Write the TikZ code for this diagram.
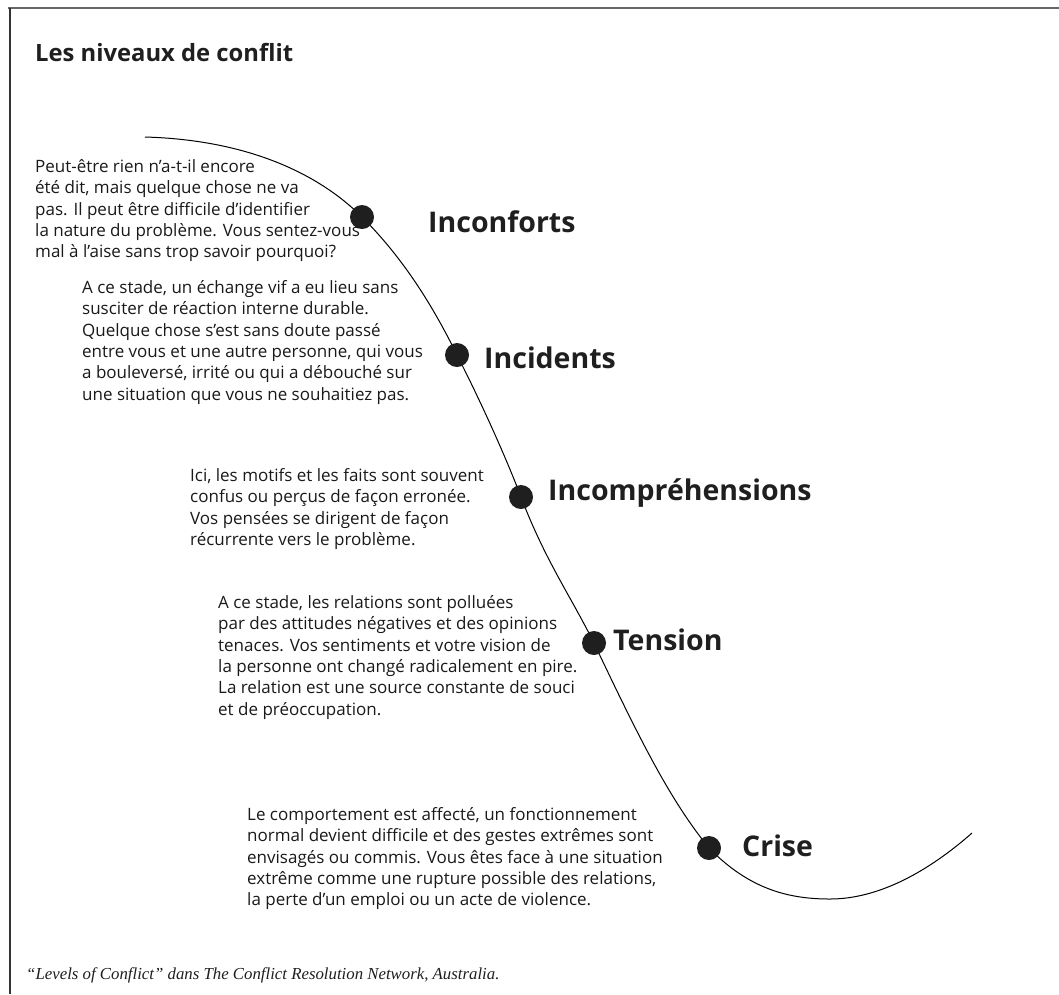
\documentclass[tikz,border=0pt]{standalone}
\usepackage{fontspec}
\setmainfont{Open Sans}
\newfontfamily\capfont{Liberation Serif}
\usetikzlibrary{positioning}

\begin{document}
\begin{tikzpicture}[x=1pt, y=-1pt,
    desc/.style={anchor=north west, align=left, inner sep=0pt,
                 text=black!90, font=\fontsize{17}{21.4}\selectfont},
    level/.style={anchor=west, inner sep=0pt, text=black!88,
                  font=\bfseries\fontsize{28.5}{32}\selectfont},
    stage/.style={circle, fill=black!88, minimum size=24pt, inner sep=0pt},
    frame/.style={line width=1.6pt, draw=black!60},
]
\useasboundingbox (0,0) rectangle (1059,994);
% frame
\draw[frame] (8,8) -- (1059,8);
\draw[line width=1.2pt, draw=black!80] (10,8) -- (10,994);
\node[anchor=west, inner sep=0pt, text=black!88,
      font=\bfseries\fontsize{23.8}{28}\selectfont] (title) at (35,53)
   {Les niveaux de conflit};
% curve through the levels
\coordinate (c0) at (145,137);
\coordinate (c1) at (362,217);
\coordinate (c2) at (457,355);
\coordinate (c3) at (521,497);
\coordinate (c4) at (594,643);
\coordinate (c5) at (709,848);
\coordinate (c6) at (830,899);
\coordinate (c7) at (972,833);
\draw[line width=1pt] (c0) .. controls (250,140) and (320,175) .. (c1)
   .. controls (400,255) and (430,300) .. (c2)
   .. controls (480,400) and (505,455) .. (c3)
   .. controls (545,560) and (570,595) .. (c4)
   .. controls (640,740) and (670,800) .. (c5)
   .. controls (750,890) and (790,899) .. (c6)
   .. controls (880,899) and (930,870) .. (c7);
\node[stage] (s1) at (c1) {};
\node[stage] (s2) at (c2) {};
\node[stage] (s3) at (c3) {};
\node[stage] (s4) at (c4) {};
\node[stage] (s5) at (c5) {};
% level names
\node[level] (inconforts) at (428,222) {Inconforts};
\node[level] (incidents) at (484,358) {Incidents};
\node[level] (incompr) at (548,493) {Incompréhensions};
\node[level] (tension) at (613,640) {Tension};
\node[level] (crise) at (742,846) {Crise};
% descriptions
\node[desc] (d1) at (35,159) {Peut-être rien n’a-t-il encore\\
  été dit, mais quelque chose ne va\\
  pas. Il peut être difficile d’identifier\\
  la nature du problème. Vous sentez-vous\\
  mal à l’aise sans trop savoir pourquoi?};
\node[desc] (d2) at (82,280) {A ce stade, un échange vif a eu lieu sans\\
  susciter de réaction interne durable.\\
  Quelque chose s’est sans doute passé\\
  entre vous et une autre personne, qui vous\\
  a bouleversé, irrité ou qui a débouché sur\\
  une situation que vous ne souhaitiez pas.};
\node[desc] (d3) at (190,468) {Ici, les motifs et les faits sont souvent\\
  confus ou perçus de façon erronée.\\
  Vos pensées se dirigent de façon\\
  récurrente vers le problème.};
\node[desc] (d4) at (218,595) {A ce stade, les relations sont polluées\\
  par des attitudes négatives et des opinions\\
  tenaces. Vos sentiments et votre vision de\\
  la personne ont changé radicalement en pire.\\
  La relation est une source constante de souci\\
  et de préoccupation.};
\node[desc] (d5) at (247,807) {Le comportement est affecté, un fonctionnement\\
  normal devient difficile et des gestes extrêmes sont\\
  envisagés ou commis. Vous êtes face à une situation\\
  extrême comme une rupture possible des relations,\\
  la perte d’un emploi ou un acte de violence.};
% source
\node[anchor=west, inner sep=0pt, text=black!88,
      font=\capfont\itshape\fontsize{16.8}{20}\selectfont] (source) at (26,975)
   {“Levels of Conflict” dans The Conflict Resolution Network, Australia.};
\end{tikzpicture}
\end{document}
